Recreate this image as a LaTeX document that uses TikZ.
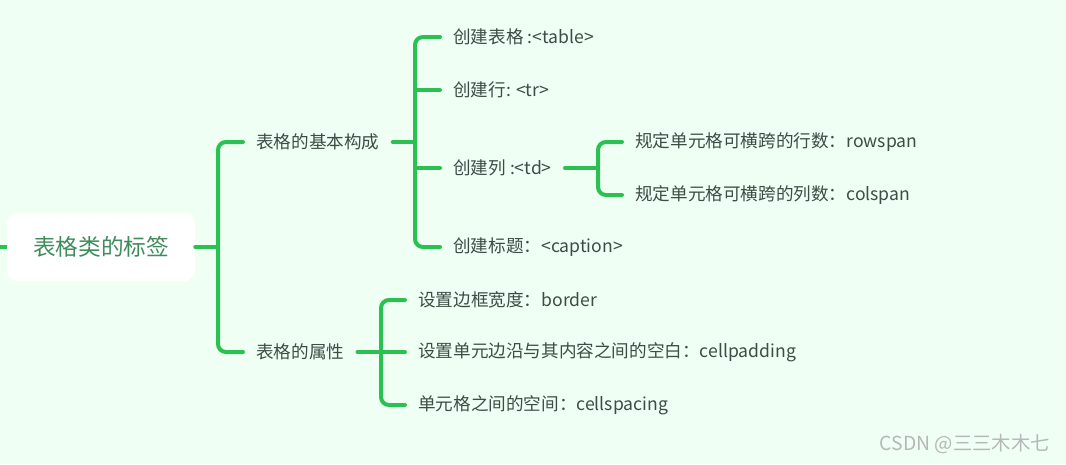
\documentclass[tikz,border=0pt]{standalone}
\usepackage{fontspec}
\setmainfont{Noto Sans CJK SC}
\definecolor{bgc}{HTML}{F0FFF4}
\definecolor{lnc}{HTML}{2AC152}
\definecolor{txc}{HTML}{3D4D45}
\definecolor{rtc}{HTML}{3E8C5C}
\definecolor{wmc}{HTML}{B4B8B6}
\begin{document}
\begin{tikzpicture}[x=0.75pt,y=-0.75pt,
  br/.style={draw=lnc,line width=3pt,rounded corners=6pt,line cap=round},
  lbl/.style={anchor=west,inner xsep=9.75pt,inner ysep=2pt,text=txc,font=\fontsize{13.2pt}{15pt}\selectfont}]
\fill[bgc] (0,0) rectangle (1066,464);
\useasboundingbox (0,0) rectangle (1066,464);
% root
\node[fill=white,rounded corners=8pt,minimum width=141pt,minimum height=51pt,inner sep=0pt,
  text=rtc,font=\fontsize{17pt}{20pt}\selectfont] (root) at (101,247) {表格类的标签};
\coordinate (lstub) at (0,247);
% level 1
\node[lbl] (b1) at (243,142) {表格的基本构成};
\node[lbl] (b2) at (243,352) {表格的属性};
% level 2
\node[lbl] (c1) at (440,37) {创建表格 :<table>};
\node[lbl] (c2) at (440,90) {创建行: <tr>};
\node[lbl] (c3) at (440,168) {创建列 :<td>};
\node[lbl] (c4) at (440,247) {创建标题：<caption>};
\node[lbl] (d1) at (622,142) {规定单元格可横跨的行数：rowspan};
\node[lbl] (d2) at (622,195) {规定单元格可横跨的列数：colspan};
\node[lbl] (e1) at (405,300) {设置边框宽度：border};
\node[lbl] (e2) at (405,352) {设置单元边沿与其内容之间的空白：cellpadding};
\node[lbl] (e3) at (405,405) {单元格之间的空间：cellspacing};
% junctions
\coordinate (j0) at (218,247);
\coordinate (j1) at (415,142);
\coordinate (j2) at (598,168);
\coordinate (j3) at (381,352);
% connectors
\draw[br,line cap=butt] (lstub) -- (root.west);
\draw[br] (root.east) -- (j0);
\draw[br] (b1.west) -| (j0) |- (b2.west);
\draw[br] (b1.east) -- (j1);
\draw[br] (c1.west) -| (j1) |- (c4.west);
\draw[br] (j1 |- c2.west) -- (c2.west);
\draw[br] (j1 |- c3.west) -- (c3.west);
\draw[br] (c3.east) -- (j2);
\draw[br] (d1.west) -| (j2) |- (d2.west);
\draw[br] (b2.east) -- (j3);
\draw[br] (e1.west) -| (j3) |- (e3.west);
\draw[br] (j3) -- (e2.west);
% watermark
\node[anchor=east,inner sep=0pt,text=wmc,font=\fontsize{14.5pt}{16pt}\selectfont] (wm) at (1050,444) {CSDN @三三木木七};
\end{tikzpicture}
\end{document}
